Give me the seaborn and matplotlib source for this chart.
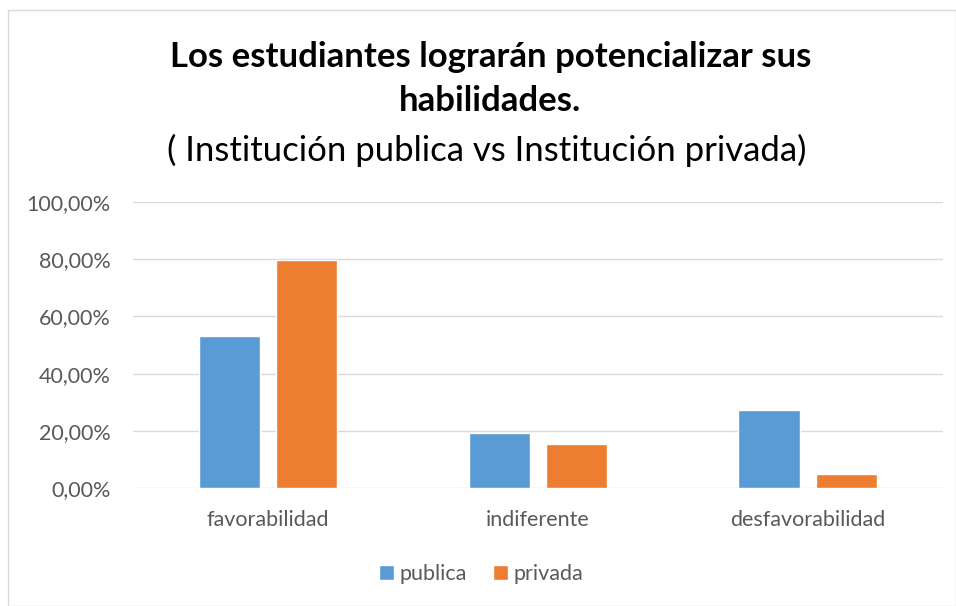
import numpy as np
import pandas as pd
import seaborn as sns
import matplotlib.pyplot as plt
from matplotlib.patches import Rectangle
from matplotlib.ticker import FuncFormatter

categories = ['favorabilidad', 'indiferente', 'desfavorabilidad']
publica = [0.531, 0.194, 0.274]
privada = [0.796, 0.153, 0.050]
series_names = ['publica', 'privada']
colors = ['#5B9BD5', '#ED7D31']

df = pd.DataFrame({
    'categoria': categories * 2,
    'valor': publica + privada,
    'serie': [series_names[0]] * 3 + [series_names[1]] * 3,
})

sns.set_theme(style='white')
plt.rcParams['font.family'] = ['Lato', 'DejaVu Sans']

fig = plt.figure(figsize=(9.56, 6.06), dpi=100)
ax = fig.add_axes([0.139, 0.1947, 0.847, 0.472])

sns.barplot(data=df, x='categoria', y='valor', hue='serie', palette=colors,
            width=0.572, gap=0.207, ax=ax, legend=True, saturation=1)

ax.set_ylim(0, 1)
ax.set_xlim(-0.5, 2.5)
ax.set_yticks(np.arange(0, 1.01, 0.2))
ax.yaxis.set_major_formatter(FuncFormatter(lambda v, p: f'{v*100:.2f}%'.replace('.', ',')))
ax.grid(axis='y', color='#d9d9d9', linewidth=1)
ax.set_axisbelow(True)
for s in ax.spines.values():
    s.set_visible(False)
ax.set_xlabel('')
ax.set_ylabel('')
ax.tick_params(axis='both', length=0, labelsize=15.5, labelcolor='#595959')
ax.tick_params(axis='x', pad=16)
ax.tick_params(axis='y', pad=16)

leg = ax.legend(loc='center', bbox_to_anchor=(0.43, -0.3), ncol=2, frameon=False,
                fontsize=15.5, handlelength=0.7, handleheight=0.7, handletextpad=0.25,
                columnspacing=1.2)
for t in leg.get_texts():
    t.set_color('#595959')

fig.text(0.513, 1 - 57 / 606, 'Los estudiantes lograrán potencializar sus', ha='center', va='center',
         fontsize=25, fontweight='bold', color='black')
fig.text(0.513, 1 - 101 / 606, 'habilidades.', ha='center', va='center',
         fontsize=25, fontweight='bold', color='black')
fig.text(0.509, 1 - 150 / 606, '( Institución publica vs Institución privada)', ha='center', va='center',
         fontsize=25, color='black')

fig.patches.append(Rectangle((8 / 956, 0), 1 - 8 / 956, 1 - 10 / 606, transform=fig.transFigure,
                             fill=False, edgecolor='#d9d9d9', linewidth=1))

fig.savefig('out.png', dpi=100)
